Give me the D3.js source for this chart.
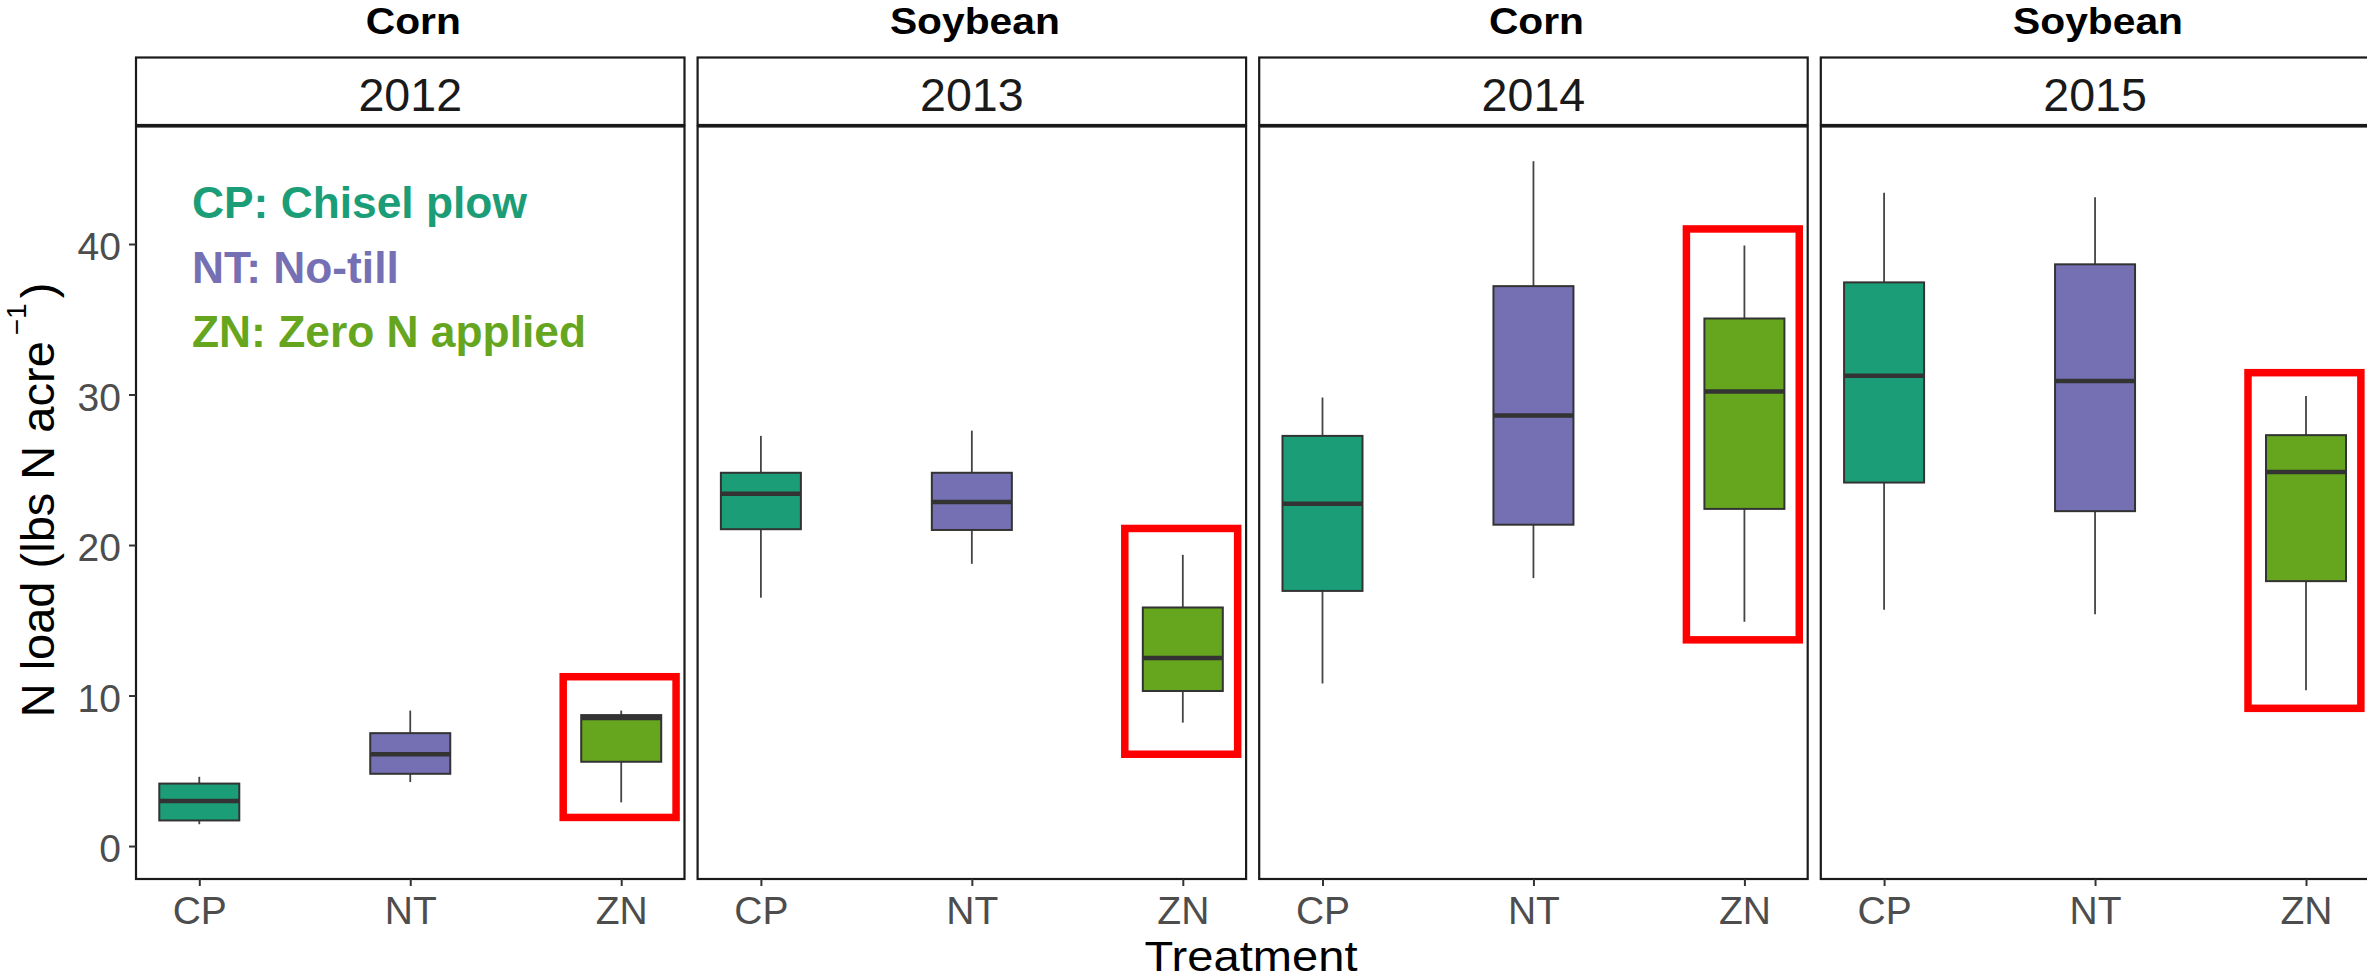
<!DOCTYPE html>
<html>
<head>
<meta charset="utf-8">
<script src="https://cdn.jsdelivr.net/npm/d3@7"></script>
<style>
  body { margin: 0; background: #fff; }
  svg text { font-family: "Liberation Sans", Arial, sans-serif; }
</style>
</head>
<body>
<svg id="chart" width="2367" height="980"></svg>
<script>
// ---- data -------------------------------------------------------------
const years = ["2012", "2013", "2014", "2015"];
const crops = ["Corn", "Soybean", "Corn", "Soybean"];
const treatments = ["CP", "NT", "ZN"];
const treatmentNames = ["CP: Chisel plow", "NT: No-till", "ZN: Zero N applied"];
const treatmentColors = ["#1b9e77", "#7570b3", "#66a61e"];

// box summaries per treatment (CP, NT, ZN): [lower whisker, Q1, median, Q3, upper whisker]
const stats2012 = [[1.45, 1.7, 3.0, 4.15, 4.6], [4.25, 4.8, 6.1, 7.5, 9.0], [2.9, 5.6, 8.5, 8.7, 9.0]];
const stats2013 = [[16.5, 21.05, 23.4, 24.8, 27.25], [18.75, 21.0, 22.85, 24.8, 27.6], [8.2, 10.3, 12.5, 15.85, 19.35]];
const stats2014 = [[10.8, 16.95, 22.75, 27.25, 29.8], [17.8, 21.35, 28.6, 37.2, 45.5], [14.9, 22.4, 30.2, 35.05, 39.9]];
const stats2015 = [[15.7, 24.15, 31.25, 37.45, 43.4], [15.4, 22.25, 30.9, 38.65, 43.1], [10.35, 17.6, 24.85, 27.3, 29.9]];
const yearStats = [stats2012, stats2013, stats2014, stats2015];

// highlighted ZN box per year: [bottom, top] in N load units
const highlightZN = [[1.9, 11.25], [6.1, 21.1], [13.7, 41.0], [9.15, 31.45]];

const yTicks = [0, 10, 20, 30, 40];
const yDomain = [-2.19, 47.84];

// ---- layout -----------------------------------------------------------
const svg = d3.select("#chart");
const firstLeft = 136, panelPitch = 561.6, panelW = 548.5;
const stripTop = 57.5, stripBottom = 125, plotTop = 126.5, plotBottom = 879;
const boxW = 80;

const y = d3.scaleLinear().domain(yDomain).range([plotBottom, 126]);

const legendFont = "Lato, 'Open Sans', sans-serif";
const plainFont = "'Liberation Sans', Arial, sans-serif";

// horizontal stretch needed for a string at a given size to reach a width
function stretchFor(str, family, weight, size, target) {
  const t = svg.append("text").attr("font-family", family)
    .attr("font-weight", weight).attr("font-size", size).text(str);
  const w = t.node().getComputedTextLength();
  t.remove();
  return target / w;
}
const titleSize = 36.5;
const titleStretch = stretchFor("Soybean", plainFont, 700, titleSize, 170);
const legendSize = 44;
const legendStretch = stretchFor(treatmentNames[0], legendFont, 700, legendSize, 335);
const xTitleSize = 42;
const xTitleStretch = stretchFor("Treatment", plainFont, 400, xTitleSize, 213);

years.forEach((yr, i) => {
  const left = firstLeft + i * panelPitch;
  const right = left + panelW;
  const x = d3.scalePoint().domain(treatments).range([left, right]).padding(0.3);
  const step = x.step();
  const g = svg.append("g");

  // crop title above strip
  g.append("text")
    .attr("transform", `translate(${(left + right) / 2 + 3},33.5) scale(${titleStretch},1)`)
    .attr("text-anchor", "middle")
    .attr("font-family", plainFont).attr("font-weight", 700)
    .attr("font-size", titleSize).attr("fill", "#000")
    .text(crops[i]);

  // strip
  g.append("rect")
    .attr("x", left).attr("y", stripTop)
    .attr("width", panelW).attr("height", stripBottom - stripTop)
    .attr("fill", "#fff").attr("stroke", "#1a1a1a").attr("stroke-width", 2.2);
  g.append("text")
    .attr("x", (left + right) / 2).attr("y", 110.7)
    .attr("text-anchor", "middle")
    .attr("font-size", 46.6).attr("fill", "#1a1a1a")
    .text(yr);

  // boxes
  const rows = yearStats[i].map((s, k) => ({ t: treatments[k], c: treatmentColors[k], s }));
  const bx = g.selectAll("g.box").data(rows).join("g").attr("class", "box");
  bx.append("line")
    .attr("x1", d => x(d.t)).attr("x2", d => x(d.t))
    .attr("y1", d => y(d.s[0])).attr("y2", d => y(d.s[1]))
    .attr("stroke", "#444").attr("stroke-width", 1.8);
  bx.append("line")
    .attr("x1", d => x(d.t)).attr("x2", d => x(d.t))
    .attr("y1", d => y(d.s[3])).attr("y2", d => y(d.s[4]))
    .attr("stroke", "#444").attr("stroke-width", 1.8);
  bx.append("rect")
    .attr("x", d => x(d.t) - boxW / 2).attr("width", boxW)
    .attr("y", d => y(d.s[3])).attr("height", d => y(d.s[1]) - y(d.s[3]))
    .attr("fill", d => d.c).attr("stroke", "#333").attr("stroke-width", 2);
  bx.append("line")
    .attr("x1", d => x(d.t) - boxW / 2).attr("x2", d => x(d.t) + boxW / 2)
    .attr("y1", d => y(d.s[2])).attr("y2", d => y(d.s[2]))
    .attr("stroke", "#333").attr("stroke-width", 4.5);

  // red highlight around the ZN box
  const h = highlightZN[i];
  g.append("rect")
    .attr("x", x("ZN") - 0.275 * step).attr("width", 0.535 * step)
    .attr("y", y(h[1])).attr("height", y(h[0]) - y(h[1]))
    .attr("fill", "none").attr("stroke", "#ff0000").attr("stroke-width", 7.5);

  // panel border
  g.append("rect")
    .attr("x", left).attr("y", plotTop)
    .attr("width", panelW).attr("height", plotBottom - plotTop)
    .attr("fill", "none").attr("stroke", "#1a1a1a").attr("stroke-width", 2.2);

  // x axis
  const xa = g.append("g").attr("transform", `translate(0,${plotBottom})`)
    .call(d3.axisBottom(x).tickSize(7).tickPadding(10.3));
  xa.select(".domain").remove();
  xa.selectAll(".tick line").attr("stroke", "#333").attr("stroke-width", 2);
  xa.selectAll(".tick text").attr("font-size", 39).attr("fill", "#4d4d4d")
    .attr("font-family", plainFont);

  // y axis on the first panel only
  if (i === 0) {
    const ya = g.append("g").attr("transform", `translate(${left},0)`)
      .call(d3.axisLeft(y).tickValues(yTicks).tickSize(7).tickPadding(8));
    ya.select(".domain").remove();
    ya.selectAll(".tick line").attr("stroke", "#333").attr("stroke-width", 2);
    ya.selectAll(".tick text").attr("font-size", 39).attr("fill", "#4d4d4d")
      .attr("dy", "0.4em")
      .attr("font-family", plainFont);
  }
});

// legend text inside the first panel
const legendX = 192, legendY0 = 218.3, legendGap = 64.2;
svg.append("g").selectAll("text").data(treatmentNames).join("text")
  .attr("transform", (d, k) => `translate(${legendX},${legendY0 + k * legendGap}) scale(${legendStretch},1)`)
  .attr("font-family", legendFont).attr("font-weight", 700)
  .attr("font-size", legendSize)
  .attr("fill", (d, k) => treatmentColors[k])
  .text(d => d);

// axis titles
svg.append("text")
  .attr("transform", `translate(1251,970.5) scale(${xTitleStretch},1)`)
  .attr("text-anchor", "middle").attr("font-size", xTitleSize).attr("fill", "#000")
  .text("Treatment");

const yTitle = svg.append("text")
  .attr("transform", "translate(54,500) rotate(-90)")
  .attr("text-anchor", "middle").attr("font-size", 47).attr("fill", "#000");
yTitle.append("tspan").text("N load (lbs N acre");
yTitle.append("tspan").attr("font-size", 28).attr("dx", 6).attr("dy", -28).text("\u22121");
yTitle.append("tspan").attr("dx", 5).attr("dy", 28).text(")");
</script>
</body>
</html>
